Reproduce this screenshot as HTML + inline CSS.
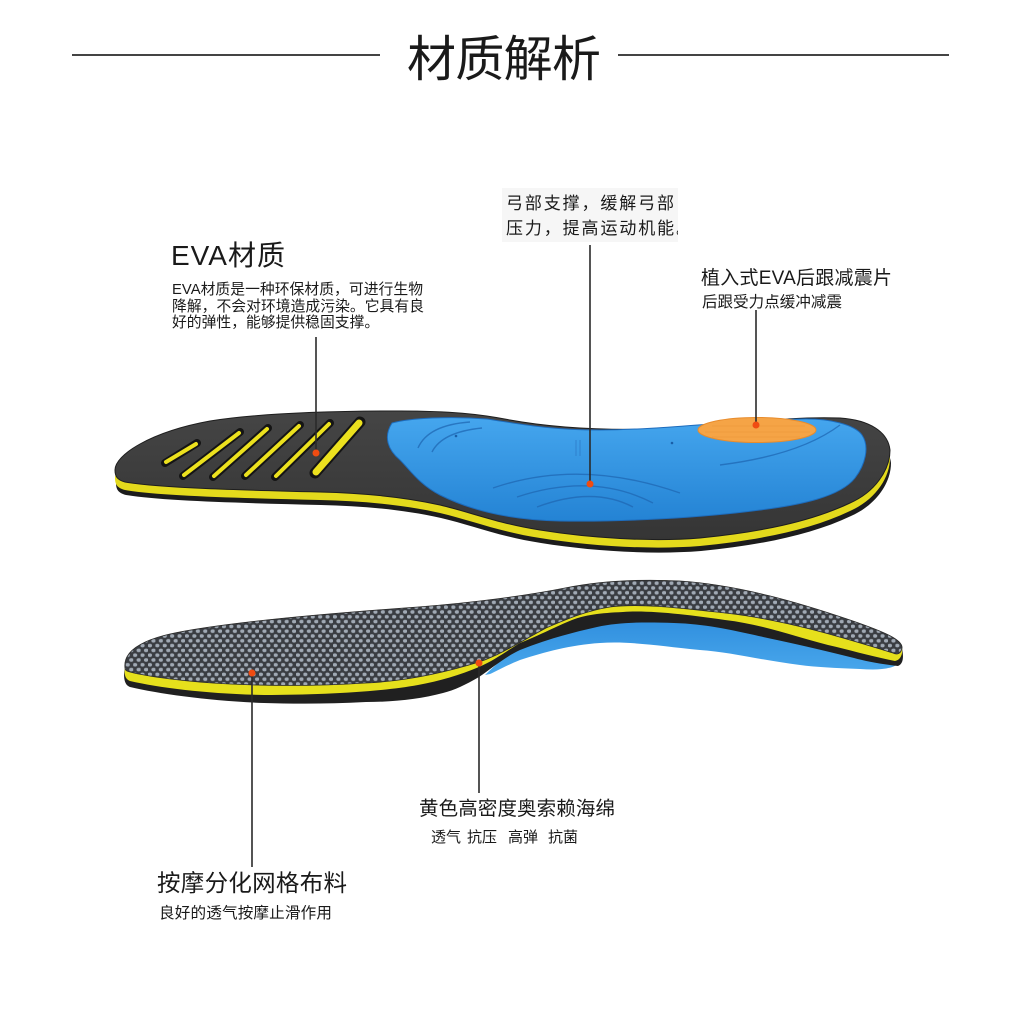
<!DOCTYPE html>
<html>
<head>
<meta charset="utf-8">
<style>
  html,body{margin:0;padding:0;background:#fff;}
  svg{display:block;}
  text{font-family:"Liberation Sans","Noto Sans CJK SC",sans-serif;fill:#1a1a1a;}
</style>
</head>
<body>
<svg width="1024" height="1024" viewBox="0 0 1024 1024" xmlns="http://www.w3.org/2000/svg">
  <defs>
    <pattern id="dots" patternUnits="userSpaceOnUse" width="7.4" height="9.6">
      <rect width="7.4" height="9.6" fill="#3a3d42"/>
      <ellipse cx="1.85" cy="2.4" rx="2.2" ry="1.75" fill="#a0a9b4"/>
      <ellipse cx="5.55" cy="7.2" rx="2.2" ry="1.75" fill="#a0a9b4"/>
    </pattern>
    <linearGradient id="blueTop" x1="0" y1="0" x2="0" y2="1">
      <stop offset="0" stop-color="#45a6ee"/>
      <stop offset="1" stop-color="#2483d4"/>
    </linearGradient>
    <linearGradient id="blueBot" x1="0" y1="0" x2="0" y2="1">
      <stop offset="0" stop-color="#2f8ede"/>
      <stop offset="1" stop-color="#4aa8ec"/>
    </linearGradient>
    <linearGradient id="blackTop" x1="0" y1="0" x2="0" y2="1">
      <stop offset="0" stop-color="#454545"/>
      <stop offset="1" stop-color="#353535"/>
    </linearGradient>
    <clipPath id="archClip"><rect x="502" y="188" width="176" height="54"/></clipPath>
  </defs>

  <rect width="1024" height="1024" fill="#fff"/>

  <!-- Title -->
  <line x1="72" y1="55" x2="380" y2="55" stroke="#444" stroke-width="2"/>
  <line x1="618" y1="55" x2="949" y2="55" stroke="#444" stroke-width="2"/>
  <text x="407" y="76" font-size="49" textLength="194" lengthAdjust="spacing" fill="#111">材质解析</text>

  <!-- ===== Top insole ===== -->
  <g>
    <path transform="translate(1,13)" fill="#1c1c1c" d="M115,470 C115,455 150,432 210,421 C260,413 330,411 400,411 C450,411 480,414 510,420 C560,429 620,431 680,428 C740,424 790,416 840,418 C870,420 888,432 890,450 C890,470 875,492 850,503 C810,522 760,532 700,538 C650,542 590,538 540,530 C500,524 470,512 440,505 C400,496 360,493 320,492 C240,490 160,488 125,482 C117,480 115,476 115,470 Z"/>
    <path transform="translate(0,8)" fill="#e4da1c" d="M115,470 C115,455 150,432 210,421 C260,413 330,411 400,411 C450,411 480,414 510,420 C560,429 620,431 680,428 C740,424 790,416 840,418 C870,420 888,432 890,450 C890,470 875,492 850,503 C810,522 760,532 700,538 C650,542 590,538 540,530 C500,524 470,512 440,505 C400,496 360,493 320,492 C240,490 160,488 125,482 C117,480 115,476 115,470 Z"/>
    <path fill="url(#blackTop)" stroke="#1e1e1e" stroke-width="1" d="M115,470 C115,455 150,432 210,421 C260,413 330,411 400,411 C450,411 480,414 510,420 C560,429 620,431 680,428 C740,424 790,416 840,418 C870,420 888,432 890,450 C890,470 875,492 850,503 C810,522 760,532 700,538 C650,542 590,538 540,530 C500,524 470,512 440,505 C400,496 360,493 320,492 C240,490 160,488 125,482 C117,480 115,476 115,470 Z"/>

    <g stroke-linecap="round">
      <line x1="165" y1="463" x2="197" y2="443" stroke="#141414" stroke-width="8"/>
      <line x1="183" y1="476" x2="240" y2="432" stroke="#141414" stroke-width="8"/>
      <line x1="213" y1="477" x2="268" y2="428" stroke="#141414" stroke-width="8"/>
      <line x1="245" y1="476" x2="300" y2="425" stroke="#141414" stroke-width="8"/>
      <line x1="275" y1="477" x2="330" y2="423" stroke="#141414" stroke-width="8"/>
      <line x1="315" y1="473" x2="360" y2="422" stroke="#141414" stroke-width="11"/>
      <line x1="166" y1="462" x2="196" y2="444" stroke="#ece11e" stroke-width="4"/>
      <line x1="184" y1="475" x2="239" y2="433" stroke="#ece11e" stroke-width="4"/>
      <line x1="214" y1="476" x2="267" y2="429" stroke="#ece11e" stroke-width="4"/>
      <line x1="246" y1="475" x2="299" y2="426" stroke="#ece11e" stroke-width="4"/>
      <line x1="276" y1="476" x2="329" y2="424" stroke="#ece11e" stroke-width="4"/>
      <line x1="316" y1="472" x2="359" y2="423" stroke="#ece11e" stroke-width="7"/>
    </g>

    <path fill="url(#blueTop)" stroke="#1d6cbd" stroke-width="1" d="M392,423 C410,418 450,416 487,419 C520,424 550,430 600,430 C660,430 740,420 800,419 C830,418 855,425 862,435 C870,447 865,465 855,478 C840,497 800,505 760,510 C700,518 620,522 560,521 C510,520 470,510 440,495 C420,485 410,470 400,460 C388,450 383,437 392,423 Z"/>
    <g fill="none" stroke="#1f68b4" stroke-width="1.4" opacity="0.75">
      <path d="M418,448 Q428,425 470,422"/>
      <path d="M432,452 Q442,432 482,428"/>
      <path d="M493,488 Q580,458 680,493"/>
      <path d="M517,497 Q593,472 653,503"/>
      <path d="M537,507 Q593,486 633,507"/>
      <path d="M720,465 Q800,455 840,425"/>
    </g>
    <circle cx="456" cy="436" r="1.3" fill="#1a5fa8"/>
    <circle cx="672" cy="443" r="1.3" fill="#1a5fa8"/>
    <g stroke="#2a76c4" stroke-width="1" opacity="0.7">
      <line x1="576" y1="440" x2="576" y2="456"/>
      <line x1="580" y1="440" x2="580" y2="456"/>
    </g>

    <ellipse cx="757" cy="430" rx="59" ry="12.5" fill="#f5a446" stroke="#e88c2c" stroke-width="1"/>
    <g stroke="#e89538" stroke-width="0.8" opacity="0.6">
      <line x1="705" y1="432" x2="810" y2="432"/>
      <line x1="712" y1="426" x2="805" y2="426"/>
      <line x1="712" y1="437" x2="800" y2="437"/>
    </g>
  </g>

  <!-- ===== Bottom insole ===== -->
  <g>
    <path fill="url(#blueBot)" d="M485,675 C520,640 560,622 620,618 C700,615 800,640 898,664 C890,670 875,670 860,669 C835,668 815,667 800,665 C760,660 730,652 700,650 C660,646 630,641 600,643 C570,645 545,652 520,660 C505,666 495,672 490,674 Z"/>
    <path fill="#202020" d="M125,668 C123,652 140,641 170,634 C220,623 320,614 418,607 C470,603 525,596 565,588 C600,581 640,579 680,581 C740,585 800,603 850,620 C885,632 903,640 902,648 C904,658 903,664 898,666 C880,664 865,661 854,658 C830,652 805,646 777,640 C740,632 710,624 674,623 C645,622 620,622 597,627 C570,633 545,640 520,650 C505,657 492,668 479,677 C465,685 455,690 443,693 C420,699 395,702 366,702 C330,704 295,704 264,703 C210,701 160,694 130,687 C124,685 123,676 125,668 Z"/>
    <path fill="#e6e01c" d="M125,668 C123,652 140,641 170,634 C220,623 320,614 418,607 C470,603 525,596 565,588 C600,581 640,579 680,581 C740,585 800,603 850,620 C885,632 903,640 902,648 C903,655 900,660 895,661 C870,656 850,650 828,645 C790,635 760,624 725,620 C690,615 650,610 623,612 C600,613 585,615 572,620 C555,627 540,635 520,643 C505,652 495,660 479,667 C460,675 440,681 418,685 C380,692 320,695 264,695 C210,694 160,688 130,681 C125,679 124,674 125,668 Z"/>
    <path fill="url(#dots)" stroke="#2a2a2a" stroke-width="0.8" d="M125,668 C123,652 140,641 170,634 C220,623 320,614 418,607 C470,603 525,596 565,588 C600,581 640,579 680,581 C740,585 800,603 850,620 C885,632 903,640 902,648 C901,654 897,655 893,653 C860,643 790,620 725,613 C680,608 640,603 610,607 C585,611 565,620 546,628 C520,642 500,655 479,662 C450,671 410,681 366,683 C320,686 270,686 230,684 C185,682 145,676 130,672 C126,671 125,670 125,668 Z"/>
  </g>

  <!-- ===== Connectors ===== -->
  <g stroke="#2a2a2a" stroke-width="1.6">
    <line x1="316" y1="337" x2="316" y2="453"/>
    <line x1="590" y1="245" x2="590" y2="484"/>
    <line x1="756" y1="310" x2="756" y2="425"/>
    <line x1="252" y1="673" x2="252" y2="867"/>
    <line x1="479" y1="663" x2="479" y2="793"/>
  </g>
  <g fill="#f04c12">
    <circle cx="316" cy="453" r="3.5"/>
    <circle cx="590" cy="484" r="3.5"/>
    <circle cx="756" cy="425" r="3.5"/>
    <circle cx="252" cy="673" r="3.5"/>
    <circle cx="479" cy="663" r="3.5"/>
  </g>

  <!-- ===== Labels ===== -->
  <text x="171" y="265" font-size="28" textLength="114" lengthAdjust="spacing" fill="#111">EVA材质</text>
  <text x="172" y="294" font-size="14.8" textLength="251" lengthAdjust="spacing">EVA材质是一种环保材质，可进行生物</text>
  <text x="172" y="311" font-size="14.8" textLength="252" lengthAdjust="spacing">降解，不会对环境造成污染。它具有良</text>
  <text x="172" y="327" font-size="14.8">好的弹性，能够提供稳固支撑。</text>

  <rect x="502" y="188" width="176" height="54" fill="#f6f6f6"/>
  <g clip-path="url(#archClip)">
    <text x="506" y="209" font-size="17" textLength="168" lengthAdjust="spacing">弓部支撑，缓解弓部</text>
    <text x="506" y="234" font-size="17" textLength="187" lengthAdjust="spacing">压力，提高运动机能。</text>
  </g>

  <text x="701" y="284" font-size="19" textLength="191" lengthAdjust="spacing" fill="#111">植入式EVA后跟减震片</text>
  <text x="702" y="307" font-size="15.5" textLength="140" lengthAdjust="spacing">后跟受力点缓冲减震</text>

  <text x="419" y="815" font-size="19.5" textLength="196" lengthAdjust="spacing" fill="#111">黄色高密度奥索赖海绵</text>
  <text x="431" y="842" font-size="15">透气</text>
  <text x="467" y="842" font-size="15">抗压</text>
  <text x="508" y="842" font-size="15">高弹</text>
  <text x="548" y="842" font-size="15">抗菌</text>

  <text x="157" y="891" font-size="23.5" textLength="190" lengthAdjust="spacing" fill="#111">按摩分化网格布料</text>
  <text x="159" y="918" font-size="15.6" textLength="173" lengthAdjust="spacing">良好的透气按摩止滑作用</text>
</svg>
</body>
</html>
